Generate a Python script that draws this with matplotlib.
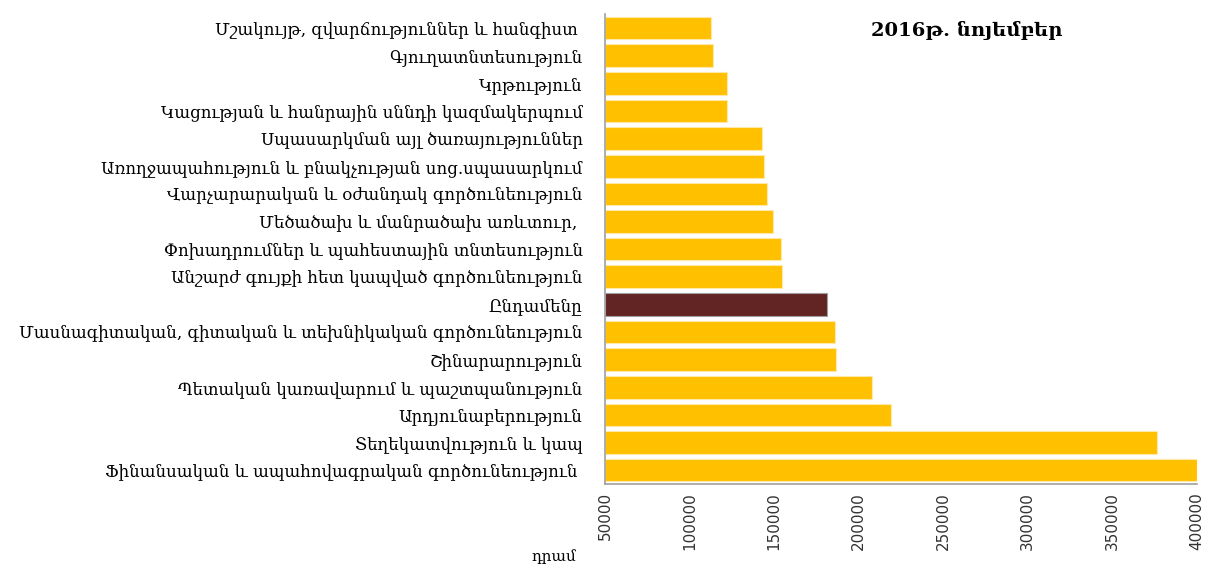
import matplotlib.pyplot as plt
import numpy as np

categories = [
    "Մշակույթ, զվարճություններ և հանգիստ ",
    "Գյուղատնտեսություն",
    "Կրթություն",
    "Կացության և հանրային սննդի կազմակերպում",
    "Սպասարկման այլ ծառայություններ",
    "Առողջապահություն և բնակչության սոց.սպասարկում",
    "Վարչարարական և օժանդակ գործունեություն",
    "Մեծածախ և մանրածախ առևտուր, ",
    "Փոխադրումներ և պահեստային տնտեսություն",
    "Անշարժ գույքի հետ կապված գործունեություն",
    "Ընդամենը",
    "Մասնագիտական, գիտական և տեխնիկական գործունեություն",
    "Շինարարություն",
    "Պետական կառավարում և պաշտպանություն",
    "Արդյունաբերություն",
    "Տեղեկատվություն և կապ",
    "Ֆինանսական և ապահովագրական գործունեություն ",
]
values = [112700, 114000, 122400, 122400, 142800, 144000, 145800, 149300,
          154000, 154600, 181500, 186000, 186600, 208000, 219300, 376600, 400000]
highlight = "Ընդամենը"
xticks = [50000, 100000, 150000, 200000, 250000, 300000, 350000, 400000]

gold = "#FFC000"
dark = "#632523"

fig = plt.figure(figsize=(12.08, 5.70), dpi=100)
ax = fig.add_axes([0.5008, 0.151, 0.49, 0.824])

y = np.arange(len(categories))
colors = [dark if c == highlight else gold for c in categories]
edges = ["#a0a0a0" if c == highlight else "#ffe9a8" for c in categories]
ax.barh(y, np.array(values) - xticks[0], left=xticks[0], height=0.82,
        color=colors, edgecolor=edges, linewidth=0.8)

ax.set_ylim(len(categories) - 0.5, -0.5)
ax.set_xlim(xticks[0], xticks[-1])
ax.set_xticks(xticks)
ax.set_xticklabels([str(t) for t in xticks], rotation=90, fontsize=11,
                   family="DejaVu Sans", color="#333333")
ax.set_yticks(y)
ax.set_yticklabels(categories, fontsize=12, family="DejaVu Serif")
ax.tick_params(axis="y", length=0, pad=16)
ax.tick_params(axis="x", length=0, pad=6)

for s in ["top", "right"]:
    ax.spines[s].set_visible(False)
ax.spines["left"].set_color("#a0a0a0")
ax.spines["bottom"].set_color("#a0a0a0")
ax.spines["left"].set_linewidth(1.2)
ax.spines["bottom"].set_linewidth(1.2)

fig.text(0.8, 0.947, "2016թ. նոյեմբեր", fontsize=14, fontweight="bold",
         family="DejaVu Serif", ha="center", va="center")
fig.text(0.477, 0.01, "դրամ", fontsize=11, family="DejaVu Serif",
         ha="right", va="bottom")

fig.savefig("out.png", dpi=100)
